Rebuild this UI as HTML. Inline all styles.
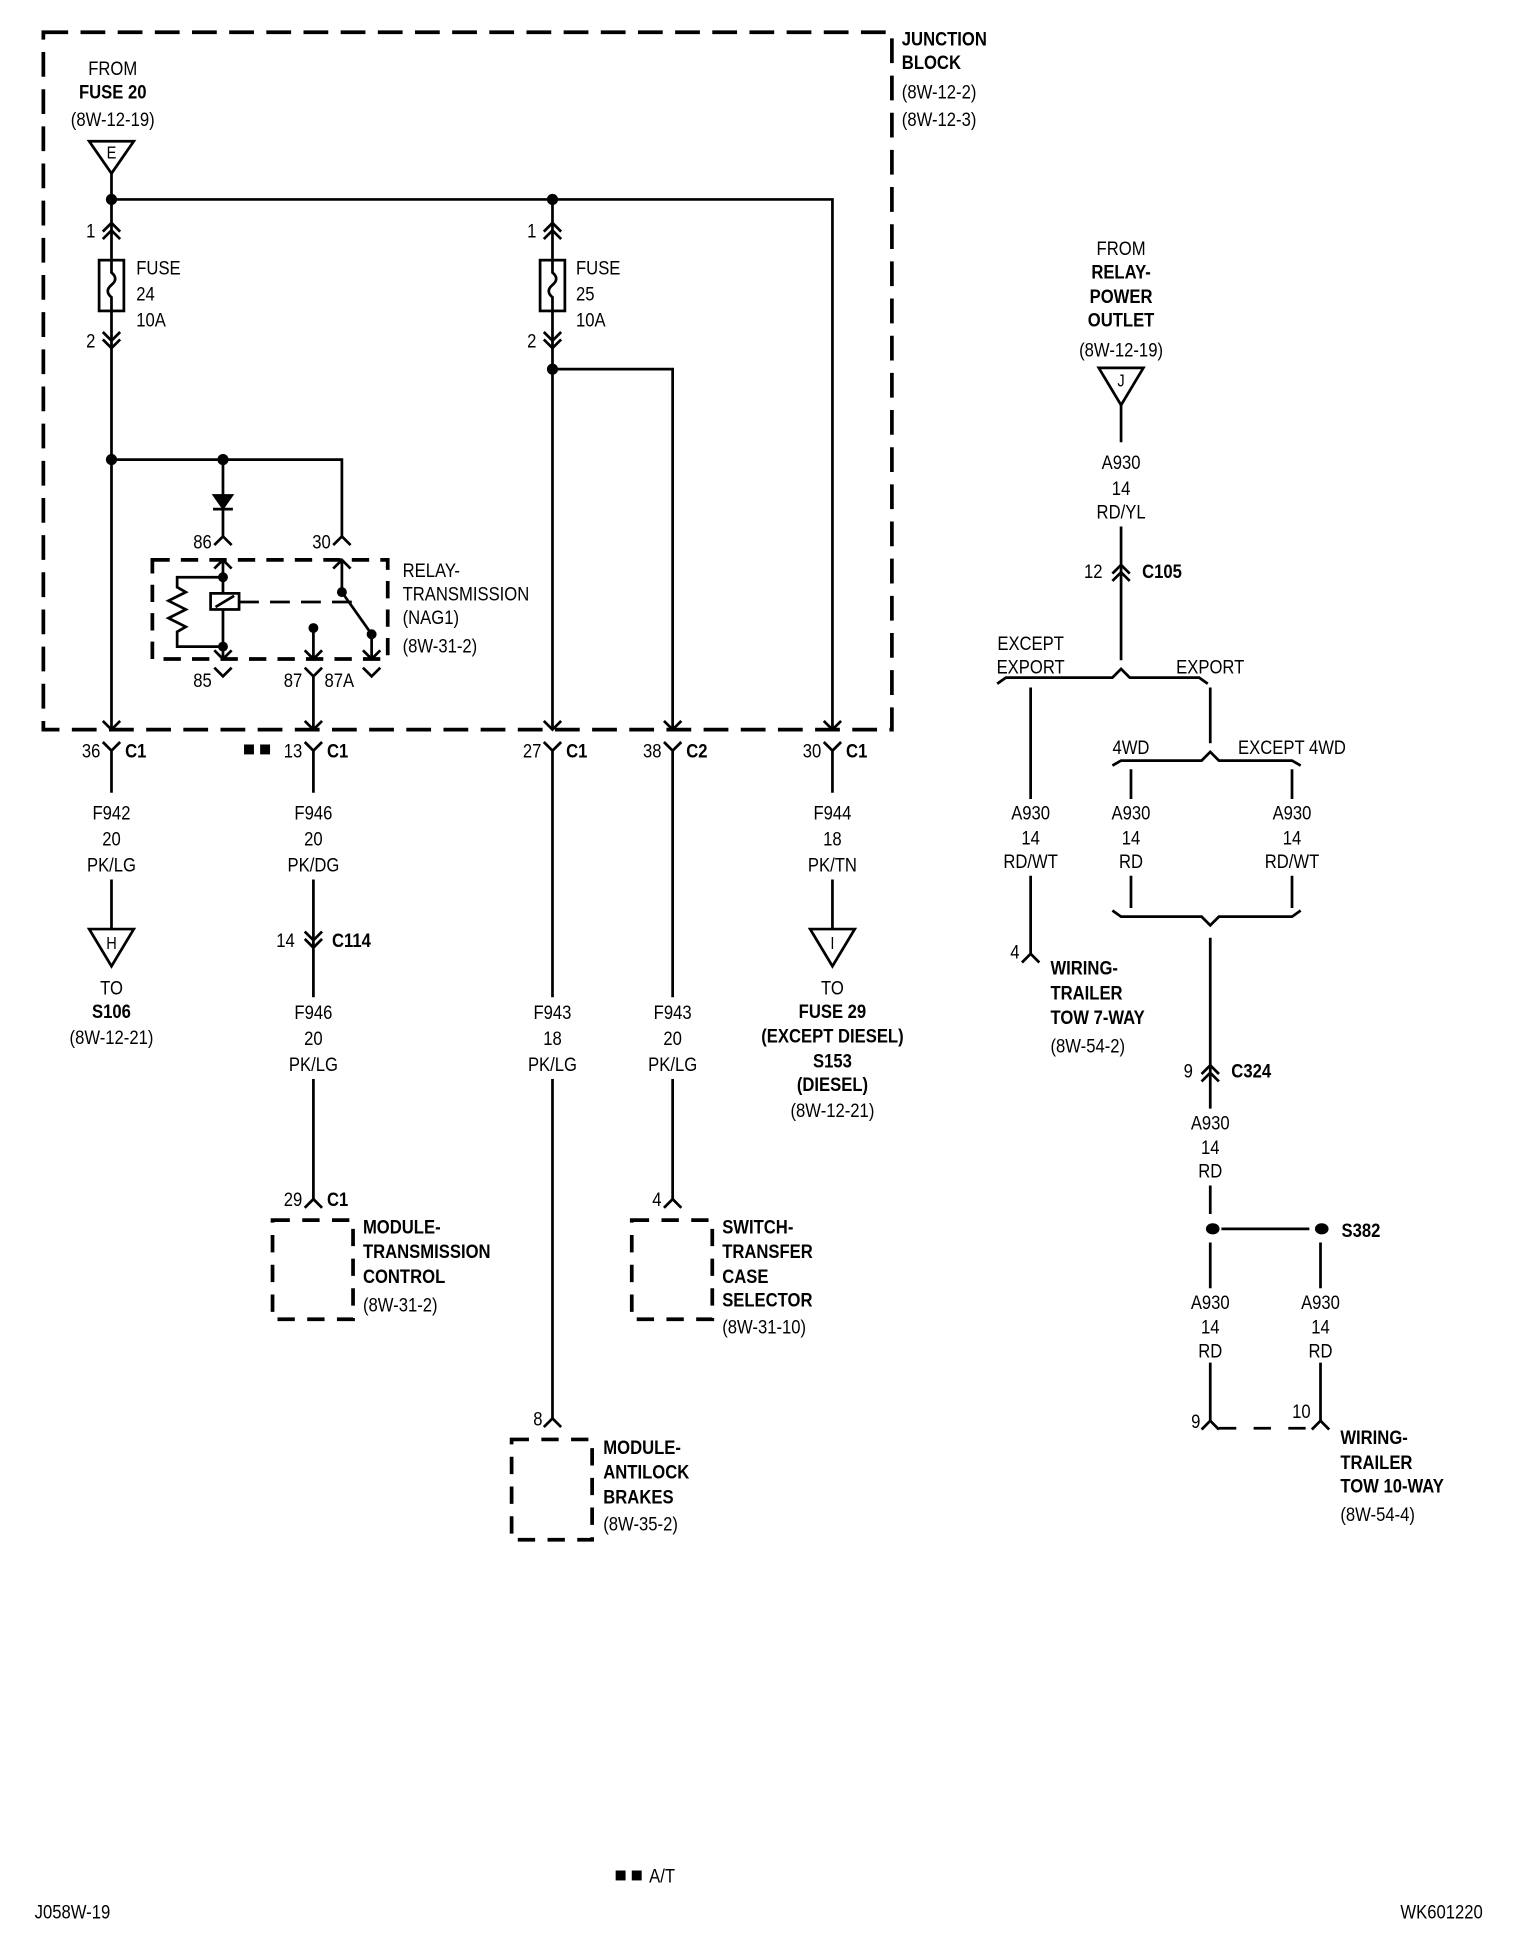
<!DOCTYPE html>
<html><head><meta charset="utf-8"><style>
html,body{margin:0;padding:0;background:#fff;}
svg{display:block;}
text{font-family:"Liberation Sans Narrow","Liberation Sans",sans-serif;font-size:16px;fill:#000;dominant-baseline:central;transform-box:fill-box;transform-origin:left center;transform:scaleX(0.84);}
.b{font-weight:bold;}
.m{text-anchor:middle;transform-origin:center center;}
.e{text-anchor:end;transform-origin:right center;}
</style></head><body>
<svg width="1520" height="1944" viewBox="0 0 1216 1555.2" xmlns="http://www.w3.org/2000/svg">
<g transform="scale(0.991)">
<g fill="none" stroke="#000" stroke-width="2.2">
<rect x="35" y="26" width="685" height="563" stroke-width="3" stroke-dasharray="20,10"/>
<path d="M72 114 L108 114 L90 140 Z"/>
<path d="M90 140 L90 589 M90 161 L672 161 L672 589"/>
<path d="M446 161 L446 589 M446 298 L543 298 L543 589"/>
<path d="M83 187 L90 180 L97 187 M83 193 L90 186 L97 193"/>
<rect x="80" y="210" width="20" height="41" fill="#fff"/>
<path d="M90 210 L90 220 Q96 225 90 230 Q84 235 90 240 L90 251"/>
<path d="M83 268 L90 275 L97 268 M83 274 L90 281 L97 274"/>
<path d="M439 187 L446 180 L453 187 M439 193 L446 186 L453 193"/>
<rect x="436" y="210" width="20" height="41" fill="#fff"/>
<path d="M446 210 L446 220 Q452 225 446 230 Q440 235 446 240 L446 251"/>
<path d="M439 268 L446 275 L453 268 M439 274 L446 281 L453 274"/>
<path d="M90 371 L276 371 L276 433 M180 371 L180 433"/>
<path d="M173 400 L187 400 L180 410 Z" fill="#000"/>
<path d="M172 411 L188 411"/>
<path d="M173 440 L180 433 L187 440 M269 440 L276 433 L283 440"/>
<rect x="123" y="452" width="190" height="80" stroke-width="3" stroke-dasharray="14,9"/>
<path d="M173 459 L180 452 L187 459 M180 452 L180 532 M173 525 L180 532 L187 525"/>
<path d="M269 459 L276 452 L283 459 M276 452 L276 478 L300 512 L300 532 M293 525 L300 532 L307 525"/>
<path d="M246 525 L253 532 L260 525 M253 507 L253 532"/>
<rect x="170" y="479" width="23" height="13" fill="#fff"/>
<path d="M174 490 L189 481"/>
<path d="M193 486 L290 486" stroke-dasharray="16,9"/>
<path d="M180 466 L143 466 L143 474 L150 478 L136 485 L150 492 L136 499 L150 506 L143 510 L143 522 L180 522"/>
<path d="M173 539 L180 546 L187 539 M293 539 L300 546 L307 539 M246 539 L253 546 L260 539 M253 546 L253 589"/>
<path d="M83 582 L90 589 L97 582 M246 582 L253 589 L260 582 M439 582 L446 589 L453 582 M536 582 L543 589 L550 582 M665 582 L672 589 L679 582"/>
<path d="M83 599 L90 606 L97 599 M90 606 L90 640 M90 710 L90 750"/>
<path d="M246 599 L253 606 L260 599 M253 606 L253 640 M253 710 L253 805 M246 752 L253 759 L260 752 M246 758 L253 765 L260 758 M253 871 L253 968"/>
<path d="M439 599 L446 606 L453 599 M446 606 L446 805 M446 871 L446 1145"/>
<path d="M536 599 L543 606 L550 599 M543 606 L543 805 M543 871 L543 968"/>
<path d="M665 599 L672 606 L679 599 M672 606 L672 640 M672 710 L672 750"/>
<path d="M72 750 L108 750 L90 780 Z M654 750 L690 750 L672 780 Z"/>
<path d="M246 975 L253 968 L260 975 M536 975 L543 968 L550 975 M439 1152 L446 1145 L453 1152"/>
<rect x="220" y="985" width="65" height="80" stroke-width="3" stroke-dasharray="14,10"/>
<rect x="510" y="985" width="65" height="80" stroke-width="3" stroke-dasharray="14,10"/>
<rect x="413" y="1162" width="65" height="81" stroke-width="3" stroke-dasharray="14,10"/>
<path d="M887 297 L923 297 L905 327 Z"/>
<path d="M905 327 L905 357 M905 425 L905 533"/>
<path d="M898 463 L905 456 L912 463 M898 469 L905 462 L912 469"/>
<path d="M805 552 L812 547 L898 547 L905 540 L912 547 L968 547 L975 552"/>
<path d="M832 555 L832 645 M832 707 L832 770 M825 777 L832 770 L839 777"/>
<path d="M977 555 L977 600"/>
<path d="M898 618 L905 614 L970 614 L977 607 L984 614 L1043 614 L1050 618"/>
<path d="M913 621 L913 645 M913 707 L913 733 M1043 621 L1043 645 M1043 707 L1043 733"/>
<path d="M898 735 L905 740 L970 740 L977 747 L984 740 L1043 740 L1050 735"/>
<path d="M977 757 L977 895 M970 867 L977 860 L984 867 M970 873 L977 866 L984 873"/>
<path d="M977 957 L977 980 M986 992 L1057 992 M977 1003 L977 1040 M1066 1003 L1066 1040 M977 1100 L977 1147 M1066 1100 L1066 1147"/>
<path d="M970 1154 L977 1147 L984 1154 M1059 1154 L1066 1147 L1073 1154"/>
<path d="M984 1153 L1059 1153" stroke-dasharray="14,14"/>
</g>
<g fill="#000">
<circle cx="90" cy="161" r="4.5"/><circle cx="446" cy="161" r="4.5"/>
<circle cx="446" cy="298" r="4.5"/><circle cx="90" cy="371" r="4.5"/><circle cx="180" cy="371" r="4.5"/>
<circle cx="180" cy="466" r="4"/><circle cx="180" cy="522" r="4"/><circle cx="276" cy="478" r="4"/>
<circle cx="300" cy="512" r="4"/><circle cx="253" cy="507" r="4"/>
<ellipse cx="979" cy="992" rx="5.5" ry="4.5"/><ellipse cx="1067" cy="992" rx="5.5" ry="4.5"/>
<rect x="197" y="601" width="8" height="8"/><rect x="210" y="601" width="8" height="8"/>
<rect x="497" y="1510" width="8" height="8"/><rect x="510" y="1510" width="8" height="8"/>
</g>
<text class="m" x="91" y="55">FROM</text>
<text class="m b" x="91" y="74">FUSE 20</text>
<text class="m" x="91" y="96">(8W-12-19)</text>
<text class="m" x="90" y="124" style="font-size:14px">E</text>
<text class="b" x="728" y="31">JUNCTION</text>
<text class="b" x="728" y="50">BLOCK</text>
<text x="728" y="74">(8W-12-2)</text>
<text x="728" y="96">(8W-12-3)</text>
<text class="e" x="77" y="186">1</text><text class="e" x="77" y="275">2</text>
<text x="110" y="216">FUSE</text><text x="110" y="237">24</text><text x="110" y="258">10A</text>
<text class="e" x="433" y="186">1</text><text class="e" x="433" y="275">2</text>
<text x="465" y="216">FUSE</text><text x="465" y="237">25</text><text x="465" y="258">10A</text>
<text class="e" x="171" y="437">86</text><text class="e" x="267" y="437">30</text>
<text x="325" y="460">RELAY-</text><text x="325" y="479">TRANSMISSION</text>
<text x="325" y="498">(NAG1)</text><text x="325" y="521">(8W-31-2)</text>
<text class="e" x="171" y="549">85</text><text class="e" x="244" y="549">87</text><text x="262" y="549">87A</text>
<text class="e" x="81" y="606">36</text><text class="b" x="101" y="606">C1</text>
<text class="e" x="244" y="606">13</text><text class="b" x="264" y="606">C1</text>
<text class="e" x="437" y="606">27</text><text class="b" x="457" y="606">C1</text>
<text class="e" x="534" y="606">38</text><text class="b" x="554" y="606">C2</text>
<text class="e" x="663" y="606">30</text><text class="b" x="683" y="606">C1</text>
<text class="m" x="90" y="656">F942</text><text class="m" x="90" y="677">20</text><text class="m" x="90" y="698">PK/LG</text>
<text class="m" x="90" y="762" style="font-size:14px">H</text>
<text class="m" x="90" y="797">TO</text><text class="m b" x="90" y="816">S106</text><text class="m" x="90" y="837">(8W-12-21)</text>
<text class="m" x="253" y="656">F946</text><text class="m" x="253" y="677">20</text><text class="m" x="253" y="698">PK/DG</text>
<text class="e" x="238" y="759">14</text><text class="b" x="268" y="759">C114</text>
<text class="m" x="253" y="817">F946</text><text class="m" x="253" y="838">20</text><text class="m" x="253" y="859">PK/LG</text>
<text class="e" x="244" y="968">29</text><text class="b" x="264" y="968">C1</text>
<text class="b" x="293" y="990">MODULE-</text><text class="b" x="293" y="1010">TRANSMISSION</text>
<text class="b" x="293" y="1030">CONTROL</text><text x="293" y="1053">(8W-31-2)</text>
<text class="m" x="446" y="817">F943</text><text class="m" x="446" y="838">18</text><text class="m" x="446" y="859">PK/LG</text>
<text class="e" x="438" y="1145">8</text>
<text class="b" x="487" y="1168">MODULE-</text><text class="b" x="487" y="1188">ANTILOCK</text>
<text class="b" x="487" y="1208">BRAKES</text><text x="487" y="1230">(8W-35-2)</text>
<text class="m" x="543" y="817">F943</text><text class="m" x="543" y="838">20</text><text class="m" x="543" y="859">PK/LG</text>
<text class="e" x="534" y="968">4</text>
<text class="b" x="583" y="990">SWITCH-</text><text class="b" x="583" y="1010">TRANSFER</text>
<text class="b" x="583" y="1030">CASE</text><text class="b" x="583" y="1049">SELECTOR</text><text x="583" y="1071">(8W-31-10)</text>
<text class="m" x="672" y="656">F944</text><text class="m" x="672" y="677">18</text><text class="m" x="672" y="698">PK/TN</text>
<text class="m" x="672" y="762" style="font-size:14px">I</text>
<text class="m" x="672" y="797">TO</text><text class="m b" x="672" y="816">FUSE 29</text>
<text class="m b" x="672" y="836">(EXCEPT DIESEL)</text><text class="m b" x="672" y="856">S153</text>
<text class="m b" x="672" y="875">(DIESEL)</text><text class="m" x="672" y="896">(8W-12-21)</text>
<text class="m" x="905" y="200">FROM</text><text class="m b" x="905" y="219">RELAY-</text>
<text class="m b" x="905" y="239">POWER</text><text class="m b" x="905" y="258">OUTLET</text>
<text class="m" x="905" y="282">(8W-12-19)</text>
<text class="m" x="905" y="308" style="font-size:14px">J</text>
<text class="m" x="905" y="373">A930</text><text class="m" x="905" y="394">14</text><text class="m" x="905" y="413">RD/YL</text>
<text class="e" x="890" y="461">12</text><text class="b" x="922" y="461">C105</text>
<text class="m" x="832" y="519">EXCEPT</text><text class="m" x="832" y="538">EXPORT</text>
<text class="m" x="977" y="538">EXPORT</text>
<text class="m" x="913" y="603">4WD</text><text class="m" x="1043" y="603">EXCEPT 4WD</text>
<text class="m" x="832" y="656">A930</text><text class="m" x="832" y="676">14</text><text class="m" x="832" y="695">RD/WT</text>
<text class="m" x="913" y="656">A930</text><text class="m" x="913" y="676">14</text><text class="m" x="913" y="695">RD</text>
<text class="m" x="1043" y="656">A930</text><text class="m" x="1043" y="676">14</text><text class="m" x="1043" y="695">RD/WT</text>
<text class="e" x="823" y="768">4</text>
<text class="b" x="848" y="781">WIRING-</text><text class="b" x="848" y="801">TRAILER</text>
<text class="b" x="848" y="821">TOW 7-WAY</text><text x="848" y="844">(8W-54-2)</text>
<text class="e" x="963" y="864">9</text><text class="b" x="994" y="864">C324</text>
<text class="m" x="977" y="906">A930</text><text class="m" x="977" y="926">14</text><text class="m" x="977" y="945">RD</text>
<text class="b" x="1083" y="993">S382</text>
<text class="m" x="977" y="1051">A930</text><text class="m" x="977" y="1071">14</text><text class="m" x="977" y="1090">RD</text>
<text class="m" x="1066" y="1051">A930</text><text class="m" x="1066" y="1071">14</text><text class="m" x="1066" y="1090">RD</text>
<text class="e" x="969" y="1147">9</text><text class="e" x="1058" y="1139">10</text>
<text class="b" x="1082" y="1160">WIRING-</text><text class="b" x="1082" y="1180">TRAILER</text>
<text class="b" x="1082" y="1199">TOW 10-WAY</text><text x="1082" y="1222">(8W-54-4)</text>
<text x="524" y="1514">A/T</text>
<text x="28" y="1543">J058W-19</text>
<text class="e" x="1197" y="1543">WK601220</text>
</g>
</svg>
</body></html>
